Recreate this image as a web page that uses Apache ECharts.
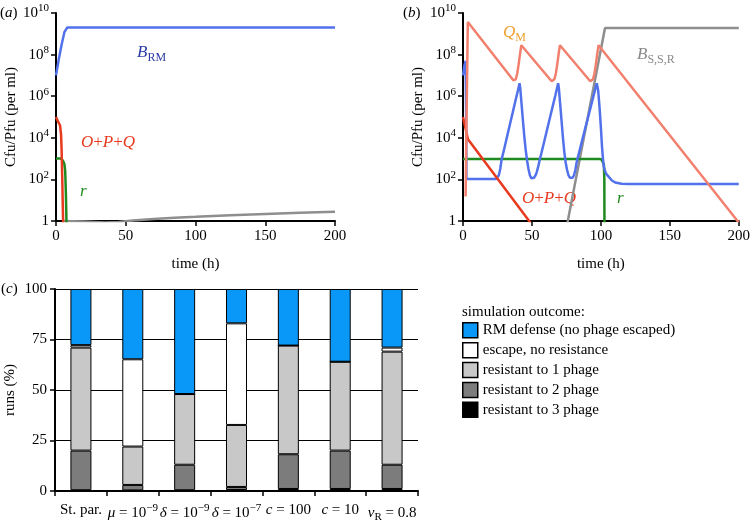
<!DOCTYPE html>
<html><head><meta charset="utf-8">
<script src="https://cdn.jsdelivr.net/npm/echarts@6/dist/echarts.min.js"></script>
<style>html,body{margin:0;padding:0;background:#fff}#c{width:753px;height:523px}</style>
</head><body><div id="c"></div>
<script>
// ---------- DATA ----------
// panel (a): [time (h), cfu/pfu per ml]
const aBRM  = [[0,1e7],[2,6e7],[4,3e8],[6,1.2e9],[8,2e9],[200,2e9]];
const aOPQ  = [[0,1e5],[1.5,6e4],[2.9,4e4],[3.6,1.5e4],[4,3e3],[4.5,100],[5,2],[5.3,0.2]];
const aR    = [[0,1000],[3.5,1000],[5,800],[6,550],[6.6,250],[7.1,20],[7.5,1],[7.7,0.2]];
const aGrey = [[5,1],[20,0.95],[35,0.85],[45,0.9],[55,1.05],[70,1.25],[85,1.45],[100,1.6],[125,1.9],[150,2.2],[175,2.5],[200,2.8]];
// panel (b)
const bBlue = [[0,1e7],[1,3e7],[1.9,5e7],[2.3,1e5],[2.5,105],[24,105],
  [25,120],[26,158],[27,316],[28,891],[30,3160],[32,1.17e4],[34,4.4e4],[36,1.58e5],[38,5.9e5],[40,2.1e6],[41,4.2e6],
  [41.5,2.5e6],[42.5,4e5],[43.5,6.3e4],[44.5,1.12e4],[45.5,2510],[46.5,794],[47.5,316],[48.5,158],[49.5,115],[50.5,105],
  [51.5,120],[52.5,151],[53.5,224],[54.5,398],[55.5,794],[57,2000],[59,7080],[61,2.5e4],[63,8.9e4],[65,3.16e5],[67,1.12e6],[69,4.2e6],
  [69.5,2.5e6],[70.5,4e5],[71.5,6.3e4],[72.5,1e4],[73.5,2000],[74.5,631],[75.5,282],[76.5,158],[77.5,120],[78.5,105],
  [79.5,120],[80.5,158],[81.5,282],[82.5,708],[84.5,2340],[86.5,7940],[88.5,2.6e4],[90.5,8.5e4],[92.5,2.8e5],[94.5,9.3e5],[96.5,3.2e6],[97,4.2e6],
  [98,2e6],[99,3.16e5],[100,3.16e4],[100.8,3980],[101.5,1000],[102,447],[103,251],[104,178],[105.6,135],[108,89],[110.4,71],[115,62],[120,60],[200,60]];
const bQM   = [[1.9,15],[2.6,1e5],[3.5,3.7e9],[36.5,5.8e6],[37.3,5e6],[38.3,6.5e6],[39.3,1.2e7],[40.3,3.2e7],[41.3,1e8],[42.3,2.8e8],[43,3.4e8],
  [64.3,5.2e6],[65.3,5e6],[66.3,6.5e6],[67.3,1.2e7],[68.3,3.2e7],[69.3,1e8],[70.3,2.8e8],[71,3.4e8],
  [92.3,5.2e6],[93.3,5e6],[94.3,6.5e6],[95.3,1.2e7],[96.3,3.2e7],[97.3,1e8],[98.3,2.8e8],[99,3.4e8],[200,0.85]];
const bOPQ  = [[0,1e5],[3.6,8.5e3],[48,1],[49,0.8]];
const bR    = [[0,950],[99,950],[100.5,900],[101.5,750],[102.2,500],[102.5,100],[102.6,1],[102.7,0.5]];
const bBSSR = [[75.5,0.7],[76,1],[103,1.9e9],[200,1.9e9]];
// panel (c): runs (%) per outcome, stacked bottom to top
const cCats = ['St. par.','{i|μ} = 10{sup|−9}','{i|δ} = 10{sup|−9}','{i|δ} = 10{sup|−7}','{i|c} = 100','{i|c} = 10','{i|v}{sub|R} = 0.8'];
const cR3  = [0.4, 0.3, 0.4, 0.5, 1, 1, 1];
const cR2  = [19.6, 2.7, 12.6, 1.5, 17.2, 19, 12];
const cR1  = [51, 19, 35, 30.7, 53.8, 44, 56];
const cEsc = [1.2, 43.2, 0, 50.3, 0, 0, 2];
const cRM  = [27.8, 34.8, 52, 17, 28, 36, 29];
const outcomeNames = ['RM defense (no phage escaped)','escape, no resistance','resistant to 1 phage','resistant to 2 phage','resistant to 3 phage'];

// ---------- STYLE ----------
const FONT = 'Liberation Serif';
const C = {blue:'#5272EC', salmon:'#F2806E', red:'#E83A1F', green:'#1F8A1F', grey:'#8E8E8E'};
const supRich = {
  b:{fontFamily:FONT,fontSize:15,color:'#000'},
  sup:{fontFamily:FONT,fontSize:11,color:'#000',padding:[0,0,9,0]}
};
function logAxis(gi){
  return {type:'log', logBase:10, gridIndex:gi, min:1, max:1e10, interval:2, splitNumber:5,
    axisLine:{show:true,lineStyle:{color:'#000',width:2}},
    axisTick:{show:true,length:5,lineStyle:{color:'#000',width:1.5}},
    splitLine:{show:false}, minorTick:{show:false},
    axisLabel:{margin:7,fontFamily:FONT,fontSize:15,color:'#000',rich:supRich,
      formatter:v=>{const e=Math.round(Math.log10(v)); return e===0?'{b|1}':'{b|10}{sup|'+e+'}';}},
    name:'Cfu/Pfu (per ml)', nameLocation:'middle', nameGap:37,
    nameTextStyle:{fontFamily:FONT,fontSize:15,color:'#000'}};
}
function timeAxis(gi){
  return {type:'value', gridIndex:gi, min:0, max:200, interval:50,
    axisLine:{show:true,lineStyle:{color:'#000',width:2}},
    axisTick:{show:true,length:5,lineStyle:{color:'#000',width:1.5}},
    splitLine:{show:false},
    axisLabel:{margin:8,fontFamily:FONT,fontSize:15,color:'#000'},
    name:'time (h)', nameLocation:'middle', nameGap:36,
    nameTextStyle:{fontFamily:FONT,fontSize:15,color:'#000'}};
}
function line(gi, data, color, z){
  return {type:'line', xAxisIndex:gi, yAxisIndex:gi, data, symbol:'none', clip:true, z:z||2,
    lineStyle:{color, width:2.5}, itemStyle:{color}, silent:true, animation:false};
}
function bar(name, data, color){
  return {type:'bar', name, xAxisIndex:2, yAxisIndex:2, stack:'c', data, barWidth:21,
    itemStyle:{color, borderColor:'#000', borderWidth:1}, animation:false};
}
const lblRich = (col, size)=>({
  n:{fontFamily:FONT,fontSize:size,fill:col},
  i:{fontFamily:FONT,fontSize:size,fontStyle:'italic',fill:col},
  s:{fontFamily:FONT,fontSize:12,fill:col,padding:[9,0,0,0]}
});
function txt(x,y,text,col,size){
  size = size||17;
  return {type:'text', x, y, style:{text, fill:col, font:'normal normal '+size+'px "'+FONT+'"',
    align:'left', verticalAlign:'middle', rich:lblRich(col,size)}};
}

const chart = echarts.init(document.getElementById('c'), null, {renderer:'canvas'});
chart.setOption({
  backgroundColor:'#fff',
  animation:false,
  grid:[
    {left:56, top:13, width:279, height:208},
    {left:463, top:13, width:278, height:208},
    {left:55, top:289, width:363, height:202}
  ],
  xAxis:[timeAxis(0), timeAxis(1),
    {type:'category', gridIndex:2, data:cCats,
     axisLine:{show:true,lineStyle:{color:'#000',width:2}},
     axisTick:{show:true,length:5,lineStyle:{color:'#000',width:1.5}},
     axisLabel:{margin:12,fontFamily:FONT,fontSize:15,color:'#000',interval:0,
       rich:{i:{fontFamily:FONT,fontSize:15,fontStyle:'italic',color:'#000'},
             sup:{fontFamily:FONT,fontSize:11,color:'#000',padding:[0,0,9,0]},
             sub:{fontFamily:FONT,fontSize:11,color:'#000',padding:[9,0,0,0]}}}}],
  yAxis:[logAxis(0), logAxis(1),
    {type:'value', gridIndex:2, min:0, max:100, interval:25,
     axisLine:{show:true,lineStyle:{color:'#000',width:2}},
     axisTick:{show:true,length:5,lineStyle:{color:'#000',width:1.5}},
     splitLine:{show:true,lineStyle:{color:'#000',width:1}},
     axisLabel:{margin:8,fontFamily:FONT,fontSize:15,color:'#000'},
     name:'runs (%)', nameLocation:'middle', nameGap:37,
     nameTextStyle:{fontFamily:FONT,fontSize:15,color:'#000'}}],
  legend:{data:outcomeNames, left:462, top:322, padding:0, orient:'vertical', icon:'rect',
    itemWidth:15, itemHeight:15, itemGap:3.4, selectedMode:false,
    itemStyle:{borderColor:'#000', borderWidth:1.5},
    textStyle:{fontFamily:FONT,fontSize:15,color:'#000'}},
  series:[
    line(0,aGrey,C.grey,2), line(0,aBRM,C.blue,3), line(0,aR,C.green,3), line(0,aOPQ,C.red,4),
    line(1,bBSSR,C.grey,2), line(1,bR,C.green,3), line(1,bBlue,C.blue,4), line(1,bOPQ,C.red,4), line(1,bQM,C.salmon,5),
    bar(outcomeNames[4], cR3, '#000000'),
    bar(outcomeNames[3], cR2, '#7C7C7C'),
    bar(outcomeNames[2], cR1, '#C8C8C8'),
    bar(outcomeNames[1], cEsc, '#FFFFFF'),
    bar(outcomeNames[0], cRM, '#0A98F8')
  ],
  graphic:[
    txt(0,13,'{n|(}{i|a}{n|)}','#000',15),
    txt(403,13,'{n|(}{i|b}{n|)}','#000',15),
    txt(1,289,'{n|(}{i|c}{n|)}','#000',15),
    txt(137,53,'{i|B}{s|RM}','#2C3DA6'),
    txt(81,143,'{i|O}{n|+}{i|P}{n|+}{i|Q}','#E83A1F'),
    txt(80,192,'{i|r}','#1F8A1F'),
    txt(503,33,'{i|Q}{s|M}','#F0A030'),
    txt(637,55,'{i|B}{s|S,S,R}','#8A8A8A'),
    txt(522,199,'{i|O}{n|+}{i|P}{n|+}{i|Q}','#E83A1F'),
    txt(617,199,'{i|r}','#1F8A1F'),
    txt(462,312,'{n|simulation outcome:}','#000',15)
  ]
});
</script></body></html>
